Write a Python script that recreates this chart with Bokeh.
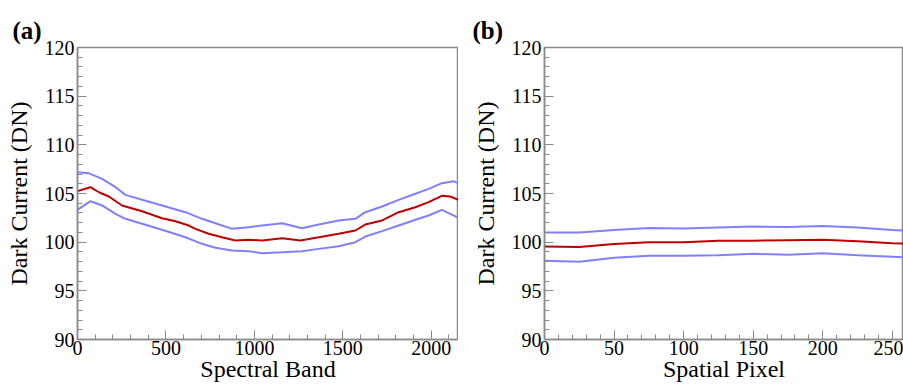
from bokeh.plotting import figure
from bokeh.layouts import row
from bokeh.models import Range1d, SingleIntervalTicker, Title
from bokeh.embed import file_html
from bokeh.resources import INLINE

# Panel (a): dark current vs spectral band
mean_band = [0, 73, 121, 177, 252, 365, 478, 554, 629, 667, 742, 817, 893, 968, 1044,
             1157, 1260, 1364, 1477, 1571, 1627, 1722, 1816, 1910, 1985, 2060, 2107, 2154]
band_mean = [105.24, 105.65, 105.13, 104.69, 103.77, 103.18, 102.46, 102.15, 101.71, 101.37,
             100.86, 100.51, 100.17, 100.24, 100.17, 100.41, 100.17, 100.51, 100.86, 101.2,
             101.81, 102.23, 103.08, 103.59, 104.11, 104.76, 104.69, 104.35]

upper_band = [0, 62, 139, 215, 271, 365, 478, 610, 704, 780, 874, 968, 1044, 1157, 1269,
              1364, 1477, 1571, 1627, 1722, 1816, 1910, 1985, 2060, 2126, 2154]
band_upper = [107.19, 107.09, 106.5, 105.65, 104.86, 104.35, 103.77, 103.08, 102.4, 101.95,
              101.37, 101.54, 101.71, 101.95, 101.43, 101.81, 102.23, 102.4, 103.08, 103.66,
              104.35, 104.97, 105.48, 106.06, 106.26, 106.06]

lower_band = [0, 73, 139, 215, 271, 365, 478, 610, 704, 780, 874, 968, 1044, 1157, 1269,
              1364, 1477, 1571, 1627, 1722, 1816, 1910, 1985, 2060, 2107, 2154]
band_lower = [103.32, 104.21, 103.77, 102.91, 102.4, 101.89, 101.27, 100.51, 99.83, 99.42,
              99.14, 99.07, 98.87, 98.97, 99.07, 99.31, 99.58, 100.0, 100.58, 101.13,
              101.71, 102.3, 102.74, 103.32, 102.91, 102.5]

# Panel (b): dark current vs spatial pixel
pixel = [0, 25, 50, 75, 100, 125, 150, 175, 200, 225, 250, 258]
pix_mean = [99.55, 99.5, 99.8, 100.0, 100.0, 100.15, 100.15, 100.2, 100.25, 100.1, 99.9, 99.85]
pix_upper = [101.0, 101.0, 101.25, 101.45, 101.4, 101.5, 101.6, 101.55, 101.65, 101.5, 101.25, 101.2]
pix_lower = [98.1, 98.0, 98.4, 98.6, 98.6, 98.65, 98.8, 98.7, 98.85, 98.65, 98.5, 98.45]

FONT = "Liberation Serif"
GRAY = "#8a8a8a"
RED = "#c00000"
BLUE = "#8080ff"


def make_panel(xmax, xmajor, xlabel, tag, width, left, title_offset):
    p = figure(width=width, height=387, output_backend="svg", toolbar_location=None,
               x_range=Range1d(0, xmax), y_range=Range1d(90, 120),
               min_border_left=left, min_border_right=0,
               min_border_top=47, min_border_bottom=48)
    p.title = Title(text=tag, align="left", offset=title_offset,
                    text_font=FONT, text_font_size="25px", text_font_style="bold",
                    text_color="black", standoff=8)
    p.grid.visible = False
    p.outline_line_color = GRAY
    p.outline_line_width = 1.5
    p.background_fill_color = "white"
    p.border_fill_color = "white"

    p.xaxis.ticker = SingleIntervalTicker(interval=xmajor, num_minor_ticks=5)
    p.yaxis.ticker = SingleIntervalTicker(interval=5, num_minor_ticks=5)

    for ax in (p.xaxis[0], p.yaxis[0]):
        ax.axis_line_color = GRAY
        ax.axis_line_width = 1.5
        ax.major_tick_line_color = GRAY
        ax.minor_tick_line_color = GRAY
        ax.major_tick_in = 9
        ax.major_tick_out = 0
        ax.minor_tick_in = 5
        ax.minor_tick_out = 0
        ax.major_label_text_font = FONT
        ax.major_label_text_font_size = "20px"
        ax.major_label_text_color = "black"
        ax.axis_label_text_font = FONT
        ax.axis_label_text_font_size = "24px"
        ax.axis_label_text_font_style = "normal"
        ax.axis_label_text_color = "black"
    p.xaxis.axis_label = xlabel
    p.yaxis.axis_label = "Dark Current (DN)"
    p.xaxis.major_label_standoff = 1
    p.yaxis.major_label_standoff = 3
    p.xaxis.axis_label_standoff = -2
    p.yaxis.axis_label_standoff = 10
    return p


pa = make_panel(2154, 500, "Spectral Band", "(a)", 458, 77, -65)
pa.line(upper_band, band_upper, line_color=BLUE, line_width=2)
pa.line(lower_band, band_lower, line_color=BLUE, line_width=2)
pa.line(mean_band, band_mean, line_color=RED, line_width=2)

pb = make_panel(258, 50, "Spatial Pixel", "(b)", 445, 86, -72)
pb.line(pixel, pix_upper, line_color=BLUE, line_width=2)
pb.line(pixel, pix_lower, line_color=BLUE, line_width=2)
pb.line(pixel, pix_mean, line_color=RED, line_width=2)

layout = row(pa, pb)
open("out.html", "w").write(file_html(layout, INLINE))
